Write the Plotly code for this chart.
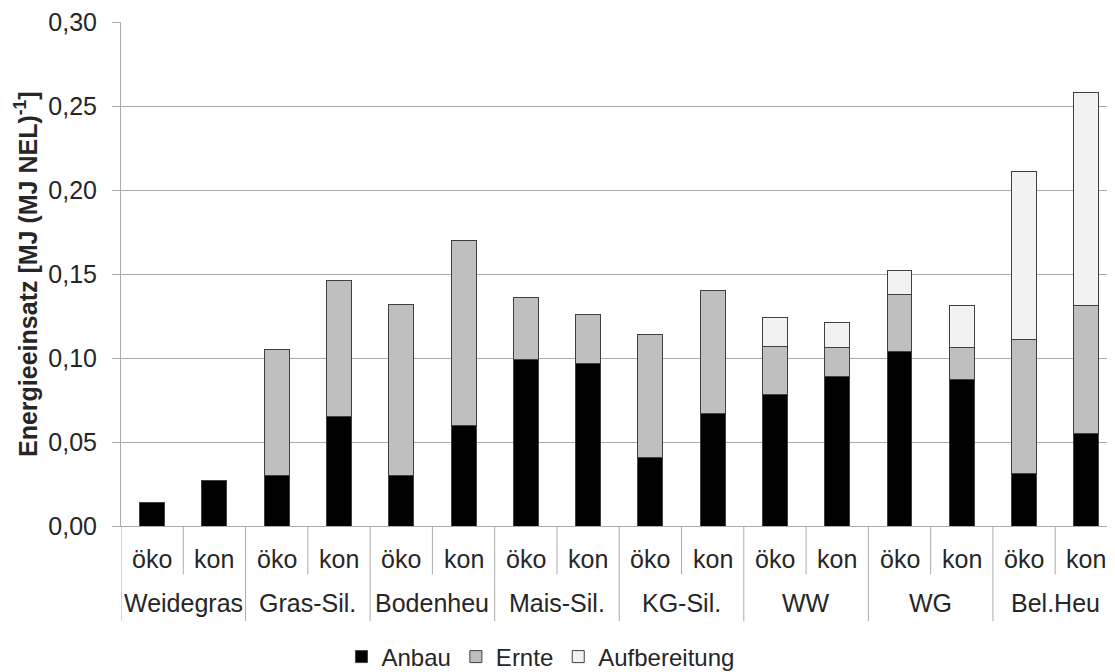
import plotly.graph_objects as go

groups = ["Weidegras", "Gras-Sil.", "Bodenheu", "Mais-Sil.", "KG-Sil.", "WW", "WG", "Bel.Heu"]
systems = ["öko", "kon"]
group_col = [g for g in groups for _ in systems]
system_col = [s for _ in groups for s in systems]

anbau = [0.014, 0.027, 0.030, 0.065, 0.030, 0.060, 0.099, 0.097,
         0.041, 0.067, 0.078, 0.089, 0.104, 0.087, 0.031, 0.055]
ernte = [None, None, 0.075, 0.081, 0.102, 0.110, 0.037, 0.029,
         0.073, 0.073, 0.029, 0.017, 0.034, 0.019, 0.080, 0.076]
aufbereitung = [None, None, None, None, None, None, None, None,
                None, None, 0.017, 0.015, 0.014, 0.025, 0.100, 0.127]

series = [("Anbau", anbau, "#000000"),
          ("Ernte", ernte, "#bfbfbf"),
          ("Aufbereitung", aufbereitung, "#f2f2f2")]

yticks = [0.0, 0.05, 0.10, 0.15, 0.20, 0.25, 0.30]

FONT = "Liberation Sans, Arial, sans-serif"
TXT = "#262626"
GRID = "#ababab"

# page body adds an 8px offset, so the figure is slightly smaller than the window
W, H = 1107, 664
ML, MR, MT, MB = 113, 0, 12, 146

fig = go.Figure()
for name, vals, col in series:
    fig.add_trace(go.Bar(
        x=[group_col, system_col], y=vals, name=name,
        marker=dict(color=col, line=dict(color="#404040", width=1)),
    ))

n = len(group_col)
shapes = []
for g in range(len(groups)):
    shapes.append(dict(type="line", xref="x", yref="paper",
                       x0=2 * g + 0.5, x1=2 * g + 0.5, y0=0, y1=-0.096,
                       line=dict(color=GRID, width=1)))
for g in range(len(groups) + 1):
    shapes.append(dict(type="line", xref="x", yref="paper",
                       x0=2 * g - 0.5, x1=2 * g - 0.5, y0=0, y1=-0.189,
                       line=dict(color=GRID, width=1)))

annotations = []
for i, s in enumerate(system_col):
    annotations.append(dict(x=i, y=-0.065, xref="x", yref="paper", text=s,
                            showarrow=False, xanchor="center", yanchor="middle",
                            font=dict(family=FONT, size=25, color=TXT)))
for g, name in enumerate(groups):
    annotations.append(dict(x=2 * g + 0.5, y=-0.152, xref="x", yref="paper", text=name,
                            showarrow=False, xanchor="center", yanchor="middle",
                            font=dict(family=FONT, size=25, color=TXT)))
plot_w = W - ML - MR
annotations.append(dict(x=(18 - ML) / plot_w, y=0.5, xref="paper", yref="paper",
                        text="<b>Energieeinsatz [MJ (MJ NEL)<sup>-1</sup>]</b>",
                        textangle=-90, showarrow=False,
                        xanchor="center", yanchor="middle",
                        font=dict(family=FONT, size=25, color=TXT)))

fig.update_layout(
    width=W, height=H,
    margin=dict(l=ML, r=MR, t=MT, b=MB),
    paper_bgcolor="white", plot_bgcolor="white",
    barmode="stack", bargap=0.6,
    separators=",.",
    font=dict(family=FONT, size=24, color=TXT),
    shapes=shapes, annotations=annotations,
    legend=dict(orientation="h", xref="container", yref="container",
                x=0.481, y=(H - 649) / H, xanchor="center", yanchor="middle",
                font=dict(family=FONT, size=24, color=TXT),
                itemwidth=30, traceorder="normal"),
    xaxis=dict(showticklabels=False, range=[-0.5, n - 0.5 - 0.04],
               showline=True, linecolor=GRID, linewidth=1,
               showgrid=False, ticks="", showdividers=False, zeroline=False),
    yaxis=dict(range=[0, 0.30], tickvals=yticks, tickformat=".2f",
               showline=True, linecolor=GRID, linewidth=1,
               showgrid=True, gridcolor=GRID, gridwidth=1,
               ticks="outside", ticklen=8, tickcolor=GRID,
               ticklabelstandoff=10, ticklabeloverflow="allow", zeroline=False,
               tickfont=dict(family=FONT, size=25, color=TXT)),
)

fig.write_html("out.html")
